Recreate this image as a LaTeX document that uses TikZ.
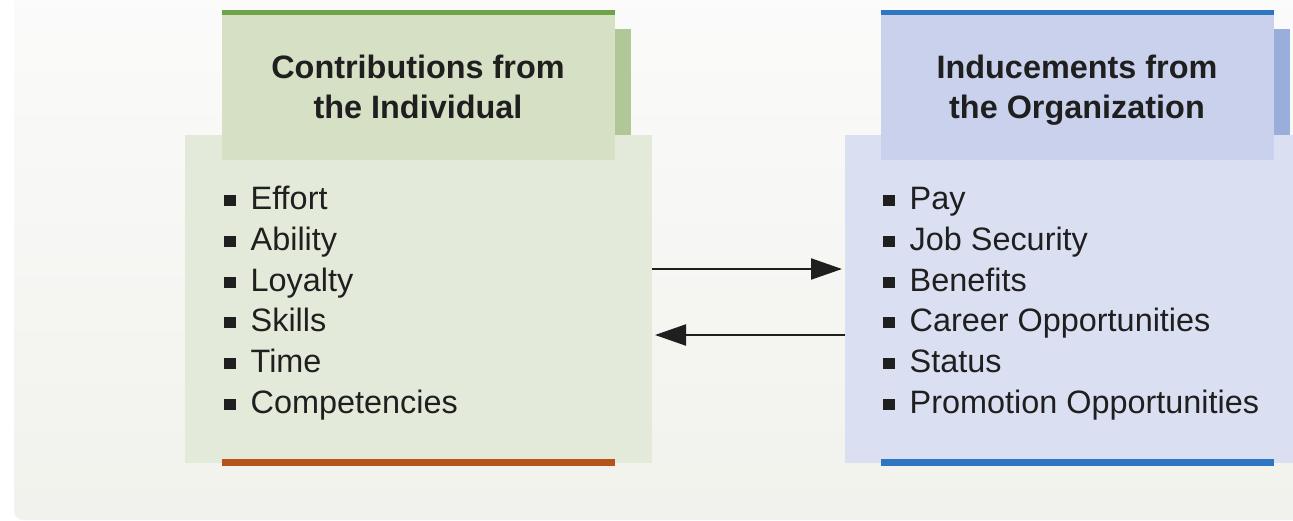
\documentclass[tikz,border=0pt]{standalone}
\usepackage{fontspec}
\setmainfont{Liberation Sans}
\usetikzlibrary{arrows.meta}
\definecolor{bgtop}{HTML}{FBFBFB}
\definecolor{bgbot}{HTML}{F1F2EC}
\definecolor{gbody}{HTML}{E4EADA}
\definecolor{ghead}{HTML}{D6E0C5}
\definecolor{gacc}{HTML}{B1C798}
\definecolor{gbar}{HTML}{6FA34A}
\definecolor{obar}{HTML}{B4541A}
\definecolor{bbody}{HTML}{DADFF2}
\definecolor{bhead}{HTML}{C9D1EC}
\definecolor{bacc}{HTML}{99AEDA}
\definecolor{bbar}{HTML}{2F76C0}
\definecolor{ink}{HTML}{1F1F1F}
\newcommand{\bul}{\makebox[26.5pt][l]{\rule[3.5pt]{12pt}{11pt}}}
\begin{document}
\begin{tikzpicture}[x=1pt,y=-1pt,
  box/.style={anchor=north west, inner sep=0pt, outer sep=0pt, draw=none},
  htext/.style={anchor=north, inner sep=0pt, align=center, text=ink,
    font=\fontsize{32.4}{40}\selectfont\bfseries},
  item/.style={anchor=base west, inner sep=0pt, text=ink,
    font=\fontsize{32.4}{40}\selectfont},
  arr/.style={draw=ink, line width=2.2pt, -{Triangle[length=31pt,width=21pt]}, shorten >=3pt}]
\useasboundingbox (0,0) rectangle (1293,521);
\shade[top color=bgtop, bottom color=bgbot, rounded corners=9pt] (14,-20) rectangle (1330,520);
% left block
\node[box, fill=gbody, minimum width=467pt, minimum height=328pt] (lbody) at (185,135) {};
\node[box, fill=ghead, minimum width=393pt, minimum height=150pt] (lhead) at (222,10) {};
\node[box, fill=gacc, minimum width=16pt, minimum height=106pt] (lacc) at (615,29) {};
\node[box, fill=gbar, minimum width=393pt, minimum height=5pt] (ltop) at (222,10) {};
\node[box, fill=obar, minimum width=393pt, minimum height=7pt] (lbot) at (222,459) {};
\node[htext] (ltitle) at (418,55) {Contributions from\\the Individual};
\foreach \t [count=\i from 0] in {Effort,Ability,Loyalty,Skills,Time,Competencies}
  \node[item] (li\i) at (224,{210+40.6*\i}) {\bul\t};
% right block
\node[box, fill=bbody, minimum width=470pt, minimum height=328pt] (rbody) at (845,135) {};
\node[box, fill=bhead, minimum width=393pt, minimum height=150pt] (rhead) at (881,10) {};
\node[box, fill=bacc, minimum width=16pt, minimum height=106pt] (racc) at (1274,29) {};
\node[box, fill=bbar, minimum width=393pt, minimum height=5pt] (rtop) at (881,10) {};
\node[box, fill=bbar, minimum width=393pt, minimum height=7pt] (rbot) at (881,459) {};
\node[htext] (rtitle) at (1077,55) {Inducements from\\the Organization};
\foreach \t [count=\i from 0] in {Pay,Job Security,Benefits,Career Opportunities,Status,Promotion Opportunities}
  \node[item] (ri\i) at (883,{210+40.6*\i}) {\bul\t};
% arrows
\coordinate (a1) at (0,269);
\coordinate (a2) at (0,335);
\draw[arr] (lbody.east |- a1) -- (rbody.west |- a1);
\draw[arr] (rbody.west |- a2) -- (lbody.east |- a2);
\end{tikzpicture}
\end{document}
